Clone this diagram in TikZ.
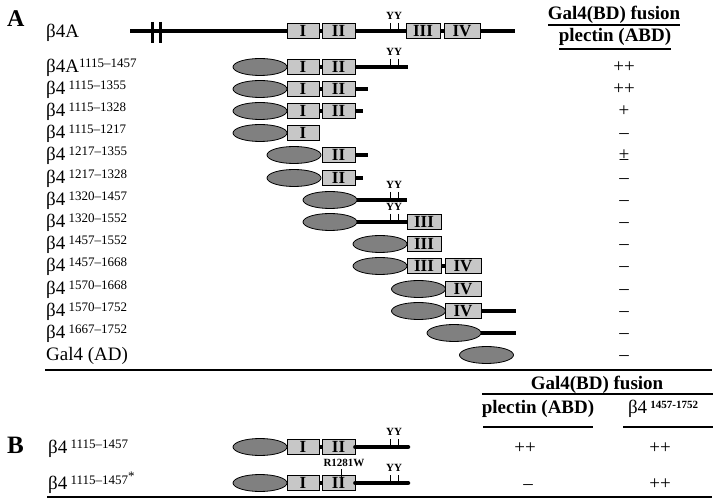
\documentclass[tikz,border=0pt]{standalone}
\usepackage{fontspec}
\setmainfont{Liberation Serif}
\usetikzlibrary{shapes.geometric}

\newcommand{\bfour}[1]{β4\,\raisebox{5pt}{\fontsize{13}{13}\selectfont #1}}

\begin{document}
\begin{tikzpicture}[x = 1pt, y = -1pt,
  ad/.style   = {ellipse, draw, line width = 0.8pt, fill = black!50, minimum width = 54pt, minimum height = 17pt, inner sep = 0pt},
  dom/.style  = {rectangle, draw, line width = 0.8pt, fill = black!22, minimum height = 15pt, inner sep = 0pt, font = \bfseries\fontsize{17}{17}\selectfont},
  dI/.style   = {dom, minimum width = 32pt},
  dII/.style  = {dom, minimum width = 33pt},
  dIII/.style = {dom, minimum width = 34pt},
  dIV/.style  = {dom, minimum width = 36pt},
  seg/.style  = {line width = 4.5pt},
  lbl/.style  = {anchor = base west, inner sep = 0pt, font = \fontsize{19}{19}\selectfont},
  val/.style  = {anchor = base, inner sep = 0pt, font = \fontsize{19}{19}\selectfont},
  hdr/.style  = {anchor = base, inner sep = 0pt, font = \bfseries\fontsize{19}{19}\selectfont},
  tyr/.style  = {inner sep = 0pt, font = \bfseries\fontsize{11}{11}\selectfont},
  rule/.style = {line width = 1.5pt}]

\useasboundingbox (0,0) rectangle (720,502);

\node[anchor = base west, inner sep = 0pt, font = \bfseries\fontsize{24}{24}\selectfont] (pa) at (7,27) {A};
\node[anchor = base west, inner sep = 0pt, font = \bfseries\fontsize{25}{25}\selectfont] (pb) at (7,453) {B};

% header A
\node[hdr] (h1) at (614,20) {Gal4(BD) fusion};
\node[hdr] (h2) at (615,42) {plectin (ABD)};
\draw[line width = 1.2pt] (548,25) -- (680,25);
\draw[line width = 1.2pt] (559,49) -- (671,49);

% row 0
\node[lbl] (l0) at (46,38) {β4A};
\coordinate (s0) at (130,31);
\coordinate (t0) at (515,31);
\node[dI]   (i0)   at (303,31)   {I};
\node[dII]  (ii0)  at (338.5,31) {II};
\node[dIII] (iii0) at (423,31)   {III};
\node[dIV]  (iv0)  at (462,31)   {IV};
\draw[seg] (s0) -- (i0.west);
\draw[seg] (i0.east) -- (ii0.west);
\draw[seg] (ii0.east) -- (iii0.west);
\draw[seg] (iii0.east) -- (iv0.west);
\draw[seg] (iv0.east) -- (t0);
\draw[line width = 3pt] (152,22) -- (152,43);
\draw[line width = 3pt] (160,22) -- (160,43);
\draw (390,23) -- (390,29);
\draw (398,23) -- (398,29);
\node[tyr] (y0) at (394,16) {YY};

% row 1
\node[lbl] (l1) at (46,73) {β4A\raisebox{5pt}{\fontsize{13}{13}\selectfont 1115–1457}};
\node[ad]  (e1)  at (260,67)   {};
\node[dI]  (i1)  at (303,67)   {I};
\node[dII] (ii1) at (338.5,67) {II};
\coordinate (t1) at (408,67);
\draw[seg] (i1.east) -- (ii1.west);
\draw[seg] (ii1.east) -- (t1);
\draw (390,59) -- (390,65);
\draw (398,59) -- (398,65);
\node[tyr] (y1) at (394,52) {YY};
\node[val] (v1) at (624,73) {++};

% row 2
\node[lbl] (l2) at (46,95) {\bfour{1115–1355}};
\node[ad]  (e2)  at (260,89)   {};
\node[dI]  (i2)  at (303,89)   {I};
\node[dII] (ii2) at (338.5,89) {II};
\coordinate (t2) at (368,89);
\draw[seg] (i2.east) -- (ii2.west);
\draw[seg] (ii2.east) -- (t2);
\node[val] (v2) at (624,95) {++};

% row 3
\node[lbl] (l3) at (46,117) {\bfour{1115–1328}};
\node[ad]  (e3)  at (260,111)   {};
\node[dI]  (i3)  at (303,111)   {I};
\node[dII] (ii3) at (338.5,111) {II};
\coordinate (t3) at (363,111);
\draw[seg] (i3.east) -- (ii3.west);
\draw[seg] (ii3.east) -- (t3);
\node[val] (v3) at (624,117) {+};

% row 4
\node[lbl] (l4) at (46,139) {\bfour{1115–1217}};
\node[ad]  (e4) at (260,133) {};
\node[dI]  (i4) at (303,133) {I};
\node[val] (v4) at (624,139) {–};

% row 5
\node[lbl] (l5) at (46,161) {\bfour{1217–1355}};
\node[ad]  (e5)  at (294,155)   {};
\node[dII] (ii5) at (338.5,155) {II};
\coordinate (t5) at (368,155);
\draw[seg] (ii5.east) -- (t5);
\node[val] (v5) at (624,161) {±};

% row 6
\node[lbl] (l6) at (46,184) {\bfour{1217–1328}};
\node[ad]  (e6)  at (294,178)   {};
\node[dII] (ii6) at (338.5,178) {II};
\coordinate (t6) at (363,178);
\draw[seg] (ii6.east) -- (t6);
\node[val] (v6) at (624,184) {–};

% row 7
\node[lbl] (l7) at (46,206) {\bfour{1320–1457}};
\node[ad]  (e7) at (330,200) {};
\coordinate (t7) at (407,200);
\draw[seg] (e7.east) -- (t7);
\draw (390,192) -- (390,198);
\draw (398,192) -- (398,198);
\node[tyr] (y7) at (394,185) {YY};
\node[val] (v7) at (624,206) {–};

% row 8
\node[lbl] (l8) at (46,228) {\bfour{1320–1552}};
\node[ad]   (e8)   at (330,222) {};
\node[dIII] (iii8) at (424,222) {III};
\draw[seg] (e8.east) -- (iii8.west);
\draw (390,214) -- (390,220);
\draw (398,214) -- (398,220);
\node[tyr] (y8) at (394,207) {YY};
\node[val] (v8) at (624,228) {–};

% row 9
\node[lbl] (l9) at (46,250) {\bfour{1457–1552}};
\node[ad]   (e9)   at (380,244) {};
\node[dIII] (iii9) at (424,244) {III};
\node[val] (v9) at (624,250) {–};

% row 10
\node[lbl] (l10) at (46,272) {\bfour{1457–1668}};
\node[ad]   (e10)   at (380,266) {};
\node[dIII] (iii10) at (424,266) {III};
\node[dIV]  (iv10)  at (463,266) {IV};
\draw[seg] (iii10.east) -- (iv10.west);
\node[val] (v10) at (624,272) {–};

% row 11
\node[lbl] (l11) at (46,295) {\bfour{1570–1668}};
\node[ad]  (e11)  at (418.5,289) {};
\node[dIV] (iv11) at (463,289)   {IV};
\node[val] (v11) at (624,295) {–};

% row 12
\node[lbl] (l12) at (46,317) {\bfour{1570–1752}};
\node[ad]  (e12)  at (418.5,311) {};
\node[dIV] (iv12) at (463,311)   {IV};
\coordinate (t12) at (516,311);
\draw[seg] (iv12.east) -- (t12);
\node[val] (v12) at (624,317) {–};

% row 13
\node[lbl] (l13) at (46,339) {\bfour{1667–1752}};
\node[ad]  (e13) at (454,333) {};
\coordinate (t13) at (516,333);
\draw[seg] (e13.east) -- (t13);
\node[val] (v13) at (624,339) {–};

% row 14
\node[lbl] (l14) at (46,361) {Gal4 (AD)};
\node[ad]  (e14) at (486.5,355) {};
\node[val] (v14) at (624,361) {–};

\draw[rule] (45,370) -- (712,370);

% header B
\node[hdr] (h3) at (597,389) {Gal4(BD) fusion};
\draw[line width = 1.2pt] (482,394) -- (713,394);
\node[hdr] (h4) at (538,413) {plectin (ABD)};
\node[anchor = base, inner sep = 0pt, font = \fontsize{19}{19}\selectfont] (h5) at (663,413) {β4\,\raisebox{5pt}{\bfseries\fontsize{11}{11}\selectfont 1457-1752}};
\draw[line width = 1.2pt] (483,427) -- (593,427);
\draw[line width = 1.2pt] (623,427) -- (713,427);

% row B1
\node[lbl] (lb1) at (48,453) {\bfour{1115–1457}};
\node[ad]  (eb1)  at (260,447)   {};
\node[dI]  (ib1)  at (303,447)   {I};
\node[dII] (iib1) at (338.5,447) {II};
\coordinate (tb1) at (408,447);
\draw[seg] (ib1.east) -- (iib1.west);
\draw[seg, line cap = round] (iib1.east) -- (tb1);
\draw (390,439) -- (390,445);
\draw (398,439) -- (398,445);
\node[tyr] (yb1) at (394,432) {YY};
\node[val] (vb1) at (525,453) {++};
\node[val] (wb1) at (660,453) {++};

% row B2
\node[lbl] (lb2) at (48,489) {\bfour{1115–1457}\raisebox{9pt}{\fontsize{13}{13}\selectfont *}};
\node[ad]  (eb2)  at (260,483)   {};
\node[dI]  (ib2)  at (303,483)   {I};
\node[dII] (iib2) at (338.5,483) {II};
\coordinate (tb2) at (408,483);
\draw[seg] (ib2.east) -- (iib2.west);
\draw[seg, line cap = round] (iib2.east) -- (tb2);
\draw (341,469) -- (341,479);
\node[tyr] (mut) at (344,463) {R1281W};
\draw (390,475) -- (390,481);
\draw (398,475) -- (398,481);
\node[tyr] (yb2) at (394,468) {YY};
\node[val] (vb2) at (528,489) {–};
\node[val] (wb2) at (660,489) {++};

\draw[rule] (47,497) -- (712,497);

\end{tikzpicture}
\end{document}
